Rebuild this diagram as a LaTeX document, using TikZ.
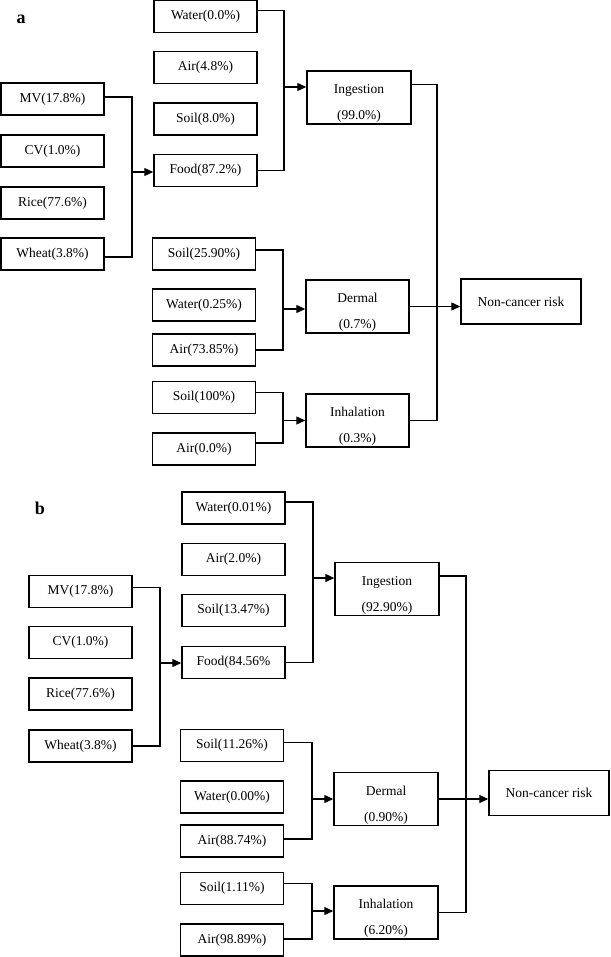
\documentclass[tikz,border=0pt]{standalone}
\usepackage{fontspec}
\setmainfont{Liberation Serif}
\usetikzlibrary{calc,positioning,arrows.meta}
\newcommand{\twoline}[2]{\rule{0pt}{21pt}#1\\#2}

\begin{document}
\begin{tikzpicture}[x=1pt,y=-1pt,
		box/.style={draw,line width=1.5pt,minimum width=103pt,minimum height=32pt,inner sep=0pt,font=\fontsize{13.5}{16}\selectfont},
		bigbox/.style={box,minimum width=104pt,minimum height=53pt,align=center,font=\fontsize{13.5}{26}\selectfont},
		riskbox/.style={box,minimum width=120pt,minimum height=45pt},
		link/.style={line width=1.4pt},
		arr/.style={link,-{Triangle[length=9pt,width=8pt]}},
		panel/.style={font=\fontsize{18}{18}\selectfont\bfseries}]
	\useasboundingbox (0,0) rectangle (610,957);
	% panel a
	\begin{scope}
		\node(labela) [panel] at (21,19) {a};
		\node(mva) [box] at (52.5,99) {MV(17.8\%)};
		\node(cva) [box] at (52.5,151) {CV(1.0\%)};
		\node(ricea) [box] at (52.5,203) {Rice(77.6\%)};
		\node(wheata) [box] at (52.5,254) {Wheat(3.8\%)};
		\node(watera) [box] at (205.5,16.5) {Water(0.0\%)};
		\node(aira) [box] at (205.5,67.5) {Air(4.8\%)};
		\node(soila) [box] at (205.5,119) {Soil(8.0\%)};
		\node(fooda) [box] at (205.5,170.5) {Food(87.2\%)};
		\node(soilda) [box] at (204,254) {Soil(25.90\%)};
		\node(waterda) [box] at (204,305) {Water(0.25\%)};
		\node(airda) [box] at (204,350) {Air(73.85\%)};
		\node(soilha) [box] at (204,397.5) {Soil(100\%)};
		\node(airha) [box] at (204,449) {Air(0.0\%)};
		\node(inga) [bigbox] at (359,97.5) {\twoline{Ingestion}{(99.0\%)}};
		\node(dera) [bigbox,minimum width=103pt] at (357.5,306.5) {\twoline{Dermal}{(0.7\%)}};
		\node(inha) [bigbox,minimum width=103pt] at (357.5,420.5) {\twoline{Inhalation}{(0.3\%)}};
		\node(nca) [riskbox] at (521,301.5) {Non-cancer risk};
		\coordinate (fdja) at (132,172);
		\coordinate (ingja) at (284,87);
		\coordinate (derja) at (283,309);
		\coordinate (inhja) at (283,420.5);
		\coordinate (mainja) at (437,306.5);
		\draw [link] ([yshift=2pt]mva.east) -| (fdja) |- ([yshift=-3pt]wheata.east);
		\draw [arr] (fdja) -- (fdja -| fooda.west);
		\draw [link] ([yshift=6pt]watera.east) -| (ingja) |- (fooda.east);
		\draw [arr] (ingja) -- (ingja -| inga.west);
		\draw [link] ([yshift=4pt]soilda.east) -| (derja) |- (airda.east);
		\draw [arr] (derja) -- (derja -| dera.west);
		\draw [link] ([yshift=5pt]soilha.east) -| (inhja) |- ([yshift=6pt]airha.east);
		\draw [arr] (inhja) -- (inha.west);
		\draw [link] ([yshift=13pt]inga.east) -| (mainja) |- (inha.east);
		\draw [arr] (dera.east) -- (dera.east -| nca.west);
	\end{scope}
	% panel b
	\begin{scope}
		\node(labelb) [panel] at (40,508) {b};
		\node(mvb) [box] at (80.5,591.5) {MV(17.8\%)};
		\node(cvb) [box] at (80.5,642.5) {CV(1.0\%)};
		\node(riceb) [box] at (80.5,694) {Rice(77.6\%)};
		\node(wheatb) [box] at (80.5,746) {Wheat(3.8\%)};
		\node(waterb) [box] at (233.5,508) {Water(0.01\%)};
		\node(airb) [box] at (233.5,559.5) {Air(2.0\%)};
		\node(soilb) [box] at (233.5,610.5) {Soil(13.47\%)};
		\node(foodb) [box] at (233.5,662.5) {Food(84.56\%};
		\node(soildb) [box] at (232,745.5) {Soil(11.26\%)};
		\node(waterdb) [box] at (232,797) {Water(0.00\%)};
		\node(airdb) [box] at (232,841) {Air(88.74\%)};
		\node(soilhb) [box] at (232,888.5) {Soil(1.11\%)};
		\node(airhb) [box] at (232,940) {Air(98.89\%)};
		\node(ingb) [bigbox] at (387,589) {\twoline{Ingestion}{(92.90\%)}};
		\node(derb) [bigbox] at (386,799) {\twoline{Dermal}{(0.90\%)}};
		\node(inhb) [bigbox] at (386,912.5) {\twoline{Inhalation}{(6.20\%)}};
		\node(ncb) [riskbox] at (549,793) {Non-cancer risk};
		\coordinate (fdjb) at (160,663);
		\coordinate (ingjb) at (313,578);
		\coordinate (derjb) at (312,799);
		\coordinate (inhjb) at (312,911);
		\coordinate (mainjb) at (466,798);
		\draw [link] ([yshift=4pt]mvb.east) -| (fdjb) |- (wheatb.east);
		\draw [arr] (fdjb) -- (fdjb -| foodb.west);
		\draw [link] ([yshift=6pt]waterb.east) -| (ingjb) |- (foodb.east);
		\draw [arr] (ingjb) -- (ingjb -| ingb.west);
		\draw [link] ([yshift=3pt]soildb.east) -| (derjb) |- ([yshift=2pt]airdb.east);
		\draw [arr] (derjb) -- (derjb -| derb.west);
		\draw [link] ([yshift=5pt]soilhb.east) -| (inhjb) |- ([yshift=1pt]airhb.east);
		\draw [arr] (inhjb) -- (inhjb -| inhb.west);
		\draw [link] ([yshift=13pt]ingb.east) -| (mainjb) |- (inhb.east);
		\draw [arr] (derb.east) -- (derb.east -| ncb.west);
	\end{scope}
\end{tikzpicture}
\end{document}
